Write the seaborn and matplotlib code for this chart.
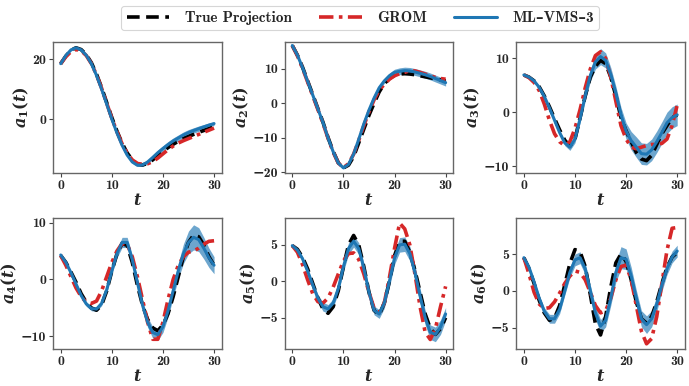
import numpy as np
import pandas as pd
import matplotlib
matplotlib.use("Agg")
import matplotlib.pyplot as plt
import seaborn as sns

# ---------------- data ----------------
t = list(range(0, 31))

true_a1 = [18.5, 21, 23, 23.8, 23.2, 21.5, 18.8, 15, 10.5, 5.5, 0.5, -4, -8, -11.3, -13.6, -15,
           -15.3, -14.8, -13.6, -12.2, -10.8, -9.5, -8.4, -7.4, -6.5, -5.8, -5.1, -4.4, -3.8, -3.2, -2.5]
grom_a1 = [18.5, 20.8, 22.5, 23.2, 22.8, 21.2, 18.5, 14.8, 10.3, 5.3, 0.3, -4.2, -8.2, -11.4, -13.6, -14.8,
           -15.1, -14.9, -14.2, -13.0, -11.6, -10.2, -9.0, -8.0, -7.2, -6.5, -5.8, -5.1, -4.4, -3.7, -3.0]
ml_a1 = [18.5, 21.2, 23.1, 23.8, 23.1, 21.3, 18.5, 14.6, 10.0, 5.0, 0.0, -4.6, -8.7, -12.0, -14.3, -15.4,
         -15.3, -14.3, -12.8, -11.2, -9.8, -8.5, -7.3, -6.3, -5.3, -4.5, -3.8, -3.2, -2.6, -2.0, -1.5]
std_a1 = [0.2, 0.2, 0.3, 0.3, 0.3, 0.3, 0.3, 0.3, 0.3, 0.3, 0.3, 0.3, 0.3, 0.3, 0.4, 0.4,
          0.5, 0.6, 0.7, 0.8, 0.9, 1.0, 1.0, 1.0, 1.0, 1.0, 0.9, 0.9, 0.8, 0.7, 0.6]

true_a2 = [16.8, 14, 10.5, 6.5, 2.5, -1.5, -5.5, -10, -14, -17.3, -18.8, -18, -15.5, -11.5, -7.5, -3.5,
           0, 3.3, 5.7, 7.2, 8.1, 8.5, 8.6, 8.5, 8.3, 8.0, 7.7, 7.4, 7.1, 6.8, 6.5]
grom_a2 = [16.8, 13.8, 10.2, 6.2, 2.2, -1.8, -5.8, -10.2, -14.2, -17.4, -18.7, -17.6, -14.8, -10.8, -6.5, -2.5,
           1.0, 3.8, 5.5, 7.0, 8.0, 8.6, 9.0, 9.5, 9.4, 9.0, 8.5, 8.0, 7.5, 7.2, 7.0]
ml_a2 = [16.8, 14, 10.4, 6.4, 2.4, -1.6, -5.6, -10.1, -14.1, -17.4, -18.8, -17.8, -14.8, -10.5, -6.0, -2.0,
         1.5, 4.5, 6.5, 8.0, 9.0, 9.3, 9.5, 9.4, 9.1, 8.7, 8.3, 7.8, 7.2, 6.6, 6.0]
std_a2 = [0.2, 0.2, 0.2, 0.2, 0.2, 0.2, 0.2, 0.2, 0.3, 0.3, 0.3, 0.3, 0.3, 0.4, 0.4, 0.5,
          0.5, 0.6, 0.7, 0.8, 0.9, 1.0, 1.0, 1.0, 1.0, 1.0, 1.0, 1.0, 1.0, 1.0, 1.0]

true_a3 = [6.9, 6.5, 5.8, 4.7, 3.0, 1.0, -1.2, -3.3, -5.2, -6.3, -5.0, -1.0, 3.0, 6.5, 8.5, 9.6,
           9.0, 6.5, 3.0, -1.0, -3.5, -5.5, -7.5, -8.7, -9.0, -8.0, -6.0, -4.0, -2.5, -1.0, -0.5]
grom_a3 = [6.9, 6.4, 5.5, 4.0, 1.5, -1.5, -4.0, -5.5, -6.2, -5.5, -3.0, 0.5, 4.5, 8.0, 10.5, 11.2,
           10.0, 6.5, 2.0, -2.5, -5.0, -6.5, -6.8, -6.5, -6.2, -6.0, -6.0, -5.8, -5.0, -2.5, 1.3]
ml_a3 = [6.9, 6.5, 5.8, 4.6, 2.9, 0.8, -1.5, -3.8, -5.7, -6.5, -5.0, -1.2, 3.0, 6.8, 9.3, 10.3,
         9.6, 7.0, 3.5, -0.5, -3.5, -5.3, -6.5, -7.7, -7.8, -7.0, -5.5, -3.8, -2.0, -1.0, -0.5]
std_a3 = [0.3, 0.3, 0.3, 0.3, 0.3, 0.3, 0.4, 0.4, 0.5, 0.6, 0.7, 0.8, 0.9, 1.1, 1.3, 1.5,
          1.4, 1.3, 1.3, 1.4, 1.5, 1.7, 1.9, 2.0, 2.0, 2.0, 2.0, 2.0, 2.0, 2.0, 2.0]

true_a4 = [4.2, 3.0, 1.3, -0.5, -2.5, -4.0, -5.0, -5.4, -4.5, -2.0, 1.5, 4.5, 6.3, 6.0, 3.0, -1.0,
           -4.5, -7.0, -8.5, -9.0, -8.0, -6.0, -3.0, 0.5, 4.0, 6.5, 7.8, 7.5, 6.0, 4.0, 2.5]
grom_a4 = [4.2, 2.5, 0.5, -1.5, -3.0, -4.0, -4.2, -3.8, -2.0, 0.5, 3.0, 5.0, 6.3, 6.2, 4.0, 0.5,
           -3.5, -7.5, -10.5, -10.5, -7.5, -3.5, 0.0, 2.5, 4.0, 4.8, 5.0, 5.5, 6.2, 6.7, 6.8]
ml_a4 = [4.3, 3.0, 1.2, -0.8, -2.8, -4.3, -5.1, -5.2, -4.2, -1.8, 1.5, 4.5, 6.5, 6.5, 3.5, -0.5,
         -4.5, -7.5, -9.3, -9.7, -8.3, -5.5, -2.0, 1.5, 4.5, 6.5, 7.4, 7.0, 5.5, 3.8, 2.5]
std_a4 = [0.3, 0.3, 0.3, 0.3, 0.3, 0.4, 0.4, 0.4, 0.4, 0.5, 0.6, 0.7, 0.9, 0.9, 0.8, 0.8,
          0.8, 0.9, 1.0, 1.0, 1.0, 1.1, 1.2, 1.4, 1.7, 2.0, 2.2, 2.1, 1.9, 1.7, 1.5]

true_a5 = [4.9, 4.4, 3.3, 1.7, -0.3, -2.3, -3.8, -4.4, -3.5, -1.3, 2.0, 5.0, 6.3, 5.0, 2.0, -1.5,
           -4.0, -4.6, -3.0, 0.0, 3.5, 5.5, 5.5, 4.0, 1.5, -1.5, -4.5, -6.5, -7.3, -6.5, -5.0]
grom_a5 = [4.9, 4.0, 2.3, 0.2, -1.7, -2.8, -3.0, -2.3, -0.8, 1.0, 2.8, 3.8, 3.9, 3.0, 1.0, -1.5,
           -3.7, -4.3, -3.0, 0.5, 4.5, 8.0, 7.2, 5.0, 1.0, -3.5, -7.0, -8.0, -6.5, -3.5, -0.7]
ml_a5 = [4.9, 4.3, 3.1, 1.4, -0.5, -2.3, -3.5, -3.8, -3.0, -1.0, 2.0, 4.5, 5.5, 4.5, 1.8, -1.5,
         -4.0, -4.5, -3.0, 0.0, 3.2, 5.0, 5.1, 3.8, 1.2, -2.0, -5.0, -7.0, -7.3, -6.3, -4.5]
std_a5 = [0.2, 0.2, 0.3, 0.3, 0.4, 0.5, 0.6, 0.6, 0.6, 0.6, 0.7, 0.8, 0.8, 0.8, 0.7, 0.6,
          0.6, 0.6, 0.7, 0.8, 0.9, 1.0, 1.0, 1.0, 1.0, 1.0, 1.0, 1.0, 1.0, 1.0, 0.9]

true_a6 = [4.5, 3.0, 1.0, -1.3, -3.0, -4.0, -3.7, -2.0, 0.8, 3.7, 5.6, 5.3, 3.3, -0.5, -4.5, -6.0,
           -3.5, 0.5, 3.8, 5.0, 4.0, 1.5, -1.5, -3.8, -4.4, -3.5, -1.5, 1.0, 3.2, 4.6, 5.2]
grom_a6 = [4.5, 2.3, -0.2, -1.8, -2.4, -2.3, -1.5, -0.3, 1.0, 2.0, 2.7, 2.5, 1.5, -0.2, -2.0, -3.0,
           -2.7, -1.0, 1.5, 3.3, 3.5, 1.5, -2.0, -5.5, -7.2, -6.5, -3.5, 1.0, 5.5, 8.5, 8.6]
ml_a6 = [4.5, 3.2, 1.2, -1.0, -2.8, -3.8, -3.8, -2.5, 0.0, 2.5, 4.2, 4.5, 3.0, 0.0, -3.0, -4.8,
         -4.0, -1.0, 2.5, 4.5, 4.3, 2.0, -1.0, -3.8, -4.6, -3.8, -1.8, 0.8, 3.0, 4.6, 5.4]
std_a6 = [0.3, 0.3, 0.3, 0.4, 0.5, 0.6, 0.6, 0.6, 0.6, 0.7, 0.8, 0.8, 0.8, 0.8, 0.9, 0.9,
          0.9, 1.0, 1.3, 1.5, 1.4, 1.2, 1.1, 1.1, 1.2, 1.1, 1.0, 0.9, 0.8, 0.8, 0.8]

series_names = ["True Projection", "GROM", "ML\u2013VMS\u20133"]
ylabels = ["$a_1(t)$", "$a_2(t)$", "$a_3(t)$", "$a_4(t)$", "$a_5(t)$", "$a_6(t)$"]
true_all = [true_a1, true_a2, true_a3, true_a4, true_a5, true_a6]
grom_all = [grom_a1, grom_a2, grom_a3, grom_a4, grom_a5, grom_a6]
ml_all = [ml_a1, ml_a2, ml_a3, ml_a4, ml_a5, ml_a6]
std_all = [std_a1, std_a2, std_a3, std_a4, std_a5, std_a6]
yticks_all = [[0, 20], [-20, -10, 0, 10], [-10, 0, 10], [-10, 0, 10], [-5, 0, 5], [-5, 0, 5]]
ylims_all = [(-18, 25.7), (-20.3, 17.8), (-11.3, 13.0), (-12.2, 10.8), (-9.3, 8.7), (-7.9, 9.9)]

# ---------------- style ----------------
sns.set_theme(style="white")
plt.rcParams["font.family"] = ["cmb10", "DejaVu Serif"]
plt.rcParams["font.weight"] = "bold"
plt.rcParams["mathtext.fontset"] = "custom"
plt.rcParams["mathtext.it"] = "DejaVu Serif:italic:bold"
plt.rcParams["mathtext.rm"] = "DejaVu Serif:bold"
plt.rcParams["mathtext.bf"] = "DejaVu Serif:bold"
plt.rcParams["axes.unicode_minus"] = True

C_TRUE = "black"
C_GROM = "#d62728"
C_ML = "#1f77b4"

fig, axes = plt.subplots(2, 3, figsize=(6.89, 3.86), dpi=100)
fig.subplots_adjust(left=0.077, right=0.994, top=0.891, bottom=0.096, wspace=0.373, hspace=0.343)

for i, ax in enumerate(axes.flat):
    df = pd.DataFrame({"t": t, "true": true_all[i], "grom": grom_all[i],
                       "ml": ml_all[i], "std": std_all[i]})
    sns.lineplot(data=df, x="t", y="true", ax=ax, color=C_TRUE, linestyle=(0, (3.5, 1.8)),
                 linewidth=2.6, label=series_names[0], legend=False)
    sns.lineplot(data=df, x="t", y="grom", ax=ax, color=C_GROM, linestyle=(0, (4.0, 1.5, 1.0, 1.5)),
                 linewidth=2.6, label=series_names[1], legend=False)
    ax.fill_between(df["t"], df["ml"] - df["std"], df["ml"] + df["std"], color=C_ML,
                    alpha=0.65, linewidth=0)
    sns.lineplot(data=df, x="t", y="ml", ax=ax, color=C_ML, linewidth=2.2,
                 label=series_names[2], legend=False)
    ax.set_xlim(-1.5, 31.5)
    ax.set_ylim(*ylims_all[i])
    ax.set_xticks([0, 10, 20, 30])
    ax.set_yticks(yticks_all[i])
    ax.set_xlabel("$t$", fontsize=11.5, labelpad=0)
    ax.set_ylabel(ylabels[i], fontsize=11.5, labelpad=1)
    ax.tick_params(axis="both", labelsize=10, length=3, width=0.8, color="#444444",
                   pad=2, bottom=True, left=True, direction="out")
    for sp in ax.spines.values():
        sp.set_color("#666666")
        sp.set_linewidth(1.0)

handles, labels = axes.flat[0].get_legend_handles_labels()
leg = fig.legend(handles, labels, loc="upper center", ncol=3, bbox_to_anchor=(0.523, 1.005),
                 frameon=True, fontsize=11, handlelength=2.8, columnspacing=1.8,
                 handletextpad=1.0, borderpad=0.35, fancybox=True)
leg.get_frame().set_edgecolor("#cccccc")
leg.get_frame().set_linewidth(0.8)

fig.savefig("out.png", dpi=100)
